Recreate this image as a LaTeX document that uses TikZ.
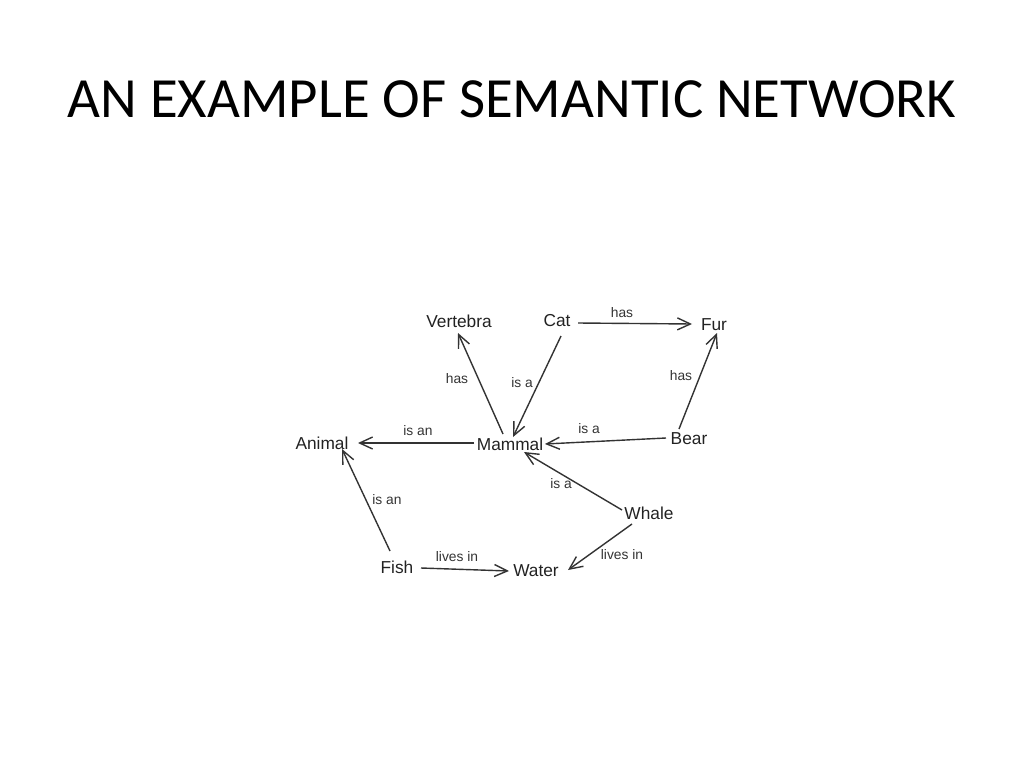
\documentclass[tikz,border=0pt]{standalone}
\usepackage{fontspec}
\setmainfont{Liberation Sans}
\newfontfamily\titlefont{Carlito}
\usetikzlibrary{arrows.meta}
\definecolor{ink}{HTML}{222222}
\definecolor{edgecol}{HTML}{333333}
\tikzset{
  concept/.style={inner sep=0pt, text=ink, font=\fontsize{17.3}{19}\selectfont},
  rel/.style={inner sep=0pt, text=edgecol, font=\fontsize{13.8}{15}\selectfont},
  link/.style={draw=edgecol, line width=1.4pt, -{Straight Barb[length=13pt,width=12pt,line width=1.4pt]}},
}
\begin{document}
\begin{tikzpicture}[x=1pt,y=-1pt]
\useasboundingbox (0,0) rectangle (1024,768);
\node[anchor=base, inner sep=0pt, text=black, font=\titlefont\fontsize{56.8}{64}\selectfont] (title) at (512,117) {AN EXAMPLE OF SEMANTIC NETWORK};

\node[concept] (vert) at (459,321) {Vertebra};
\node[concept] (cat) at (557,321) {Cat};
\node[concept] (fur) at (714,325) {Fur};
\node[concept] (animal) at (322,443) {Animal};
\node[concept] (mammal) at (510,444) {Mammal};
\node[concept] (bear) at (689,439) {Bear};
\node[concept] (whale) at (649,513) {Whale};
\node[concept] (fish) at (397,567) {Fish};
\node[concept] (water) at (536,571) {Water};

\draw[link] ([shift={(21,2)}]cat.center) -- ([shift={(-22,-1)}]fur.center);
\draw[link] ([shift={(-7,-10)}]mammal.center) -- ([shift={(-1,12)}]vert.center);
\draw[link] ([shift={(4,15)}]cat.center) -- ([shift={(3,-7)}]mammal.center);
\draw[link] ([shift={(-36,-1)}]mammal.center) -- ([shift={(36,0)}]animal.center);
\draw[link] ([shift={(-23,-1)}]bear.center) -- ([shift={(35,0)}]mammal.center);
\draw[link] ([shift={(-10,-10)}]bear.center) -- ([shift={(3,8)}]fur.center);
\draw[link] ([shift={(-27,-3)}]whale.center) -- ([shift={(14,8)}]mammal.center);
\draw[link] ([shift={(-7,-16)}]fish.center) -- ([shift={(20,6)}]animal.center);
\draw[link] ([shift={(24,1)}]fish.center) -- ([shift={(-27,0)}]water.center);
\draw[link] ([shift={(-17,11)}]whale.center) -- ([shift={(32,-1)}]water.center);

\node[rel] (l1) at (622,313) {has};
\node[rel] (l2) at (457,379) {has};
\node[rel] (l3) at (522,383) {is a};
\node[rel] (l4) at (418,431) {is an};
\node[rel] (l5) at (589,429) {is a};
\node[rel] (l6) at (681,376) {has};
\node[rel] (l7) at (561,484) {is a};
\node[rel] (l8) at (387,500) {is an};
\node[rel] (l9) at (457,557) {lives in};
\node[rel] (l10) at (622,555) {lives in};
\end{tikzpicture}
\end{document}
